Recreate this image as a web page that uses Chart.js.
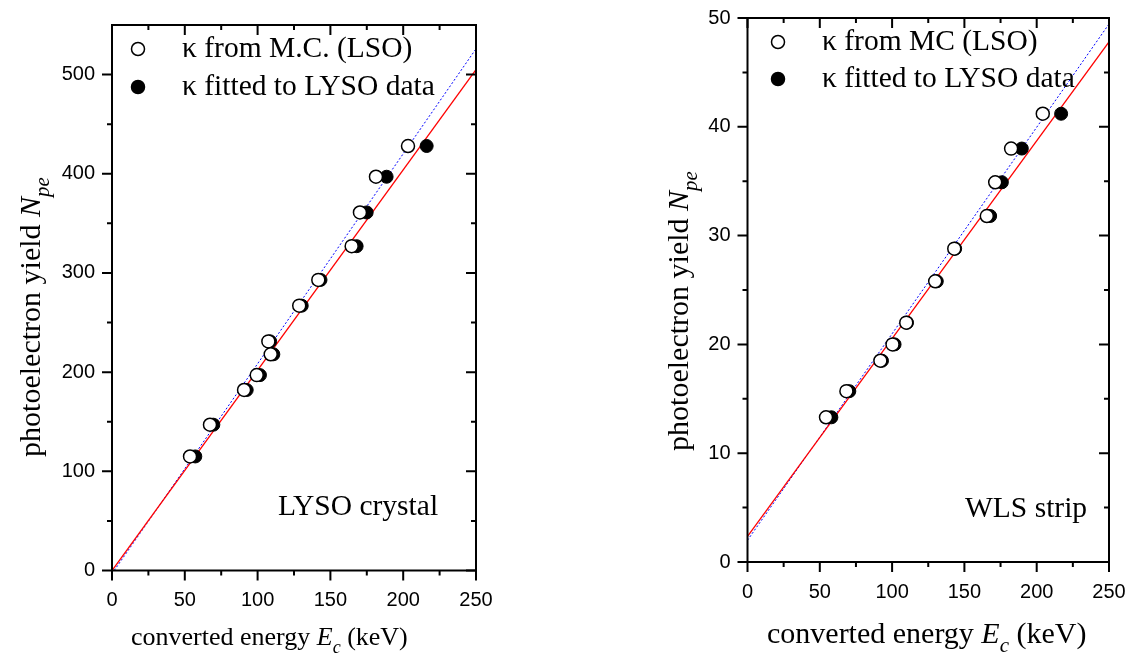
<!DOCTYPE html>
<html>
<head>
<meta charset="utf-8">
<script src="https://cdn.jsdelivr.net/npm/chart.js@4.4.1/dist/chart.umd.min.js"></script>
<style>
  html, body { margin: 0; padding: 0; background: #fff; overflow: hidden; }
  #wrap { position: relative; width: 1137px; height: 664px; }
  .panel { position: absolute; top: 0; height: 664px; }
  #lysoPanel { left: 0; width: 580px; }
  #wlsPanel { left: 580px; width: 557px; }
</style>
</head>
<body>
<div id="wrap">
  <div class="panel" id="lysoPanel"><canvas id="lysoChart"></canvas></div>
  <div class="panel" id="wlsPanel"><canvas id="wlsChart"></canvas></div>
</div>
<script>
// values: converted energy (keV) vs photoelectron yield
const energyTicks = [0, 50, 100, 150, 200, 250];
const lysoYTicks = [0, 100, 200, 300, 400, 500];
const wlsYTicks = [0, 10, 20, 30, 40, 50];

// LYSO crystal
const lysoEnergyMC = [53.6, 67.3, 90.7, 99.4, 107.4, 109.0, 128.6, 141.7, 164.6, 170.3, 181.3, 203.3];
const lysoEnergyFit = [57.2, 69.6, 92.5, 101.6, 108.6, 110.8, 130.3, 143.2, 168.0, 174.9, 188.6, 216.1];
const lysoYield = [115, 147, 182, 197, 231, 218, 267, 293, 327, 361, 397, 428];
const lysoLineX = [0, 250];
const lysoRedY = [0, 505];
const lysoBlueY = [-3.2, 526];

// WLS strip
const wlsEnergyMC = [54.3, 68.4, 91.9, 100.3, 109.8, 129.8, 143.0, 165.5, 171.3, 182.3, 204.2];
const wlsEnergyFit = [58.0, 70.4, 93.0, 101.7, 110.3, 130.9, 143.6, 167.8, 175.9, 189.7, 216.9];
const wlsYield = [13.3, 15.7, 18.5, 20.0, 22.0, 25.8, 28.8, 31.8, 34.9, 38.0, 41.2];
const wlsLineX = [0, 250];
const wlsRedY = [2.35, 47.8];
const wlsBlueY = [2.0, 49.45];

const SERIF = '"Liberation Serif", "Times New Roman", serif';
const SANS = '"Liberation Sans", Arial, sans-serif';

function pairs(xs, ys) {
  return xs.map((x, i) => ({ x: x, y: ys[i] }));
}

// draw a run of text pieces (roman / italic / subscript) starting at x
function richText(ctx, parts, x, y) {
  parts.forEach(p => {
    ctx.font = p.font;
    ctx.fillText(p.t, x, y + (p.dy || 0));
    x += ctx.measureText(p.t).width;
  });
}
function richWidth(ctx, parts) {
  let w = 0;
  parts.forEach(p => { ctx.font = p.font; w += ctx.measureText(p.t).width; });
  return w;
}

const framePlugin = {
  id: 'frame',
  afterDraw(chart, args, o) {
    const { ctx, chartArea: a, scales: { x, y } } = chart;
    ctx.save();
    ctx.strokeStyle = '#000';
    ctx.lineWidth = 2;
    ctx.strokeRect(a.left, a.top, a.right - a.left, a.bottom - a.top);

    // major + minor ticks, outward on left/bottom, inward on top/right
    const xs = [], ys = [];
    const xStep = o.xTicks[1] - o.xTicks[0], yStep = o.yTicks[1] - o.yTicks[0];
    o.xTicks.forEach(v => { xs.push([v, 10]); if (v + xStep / 2 < x.max) xs.push([v + xStep / 2, 5]); });
    o.yTicks.forEach(v => { ys.push([v, 10]); if (v + yStep / 2 < y.max) ys.push([v + yStep / 2, 5]); });
    ctx.beginPath();
    xs.forEach(([v, len]) => {
      const px = x.getPixelForValue(v);
      ctx.moveTo(px, a.bottom); ctx.lineTo(px, a.bottom + len);
      ctx.moveTo(px, a.top); ctx.lineTo(px, a.top + len);
    });
    ys.forEach(([v, len]) => {
      const py = y.getPixelForValue(v);
      ctx.moveTo(a.left - len, py); ctx.lineTo(a.left, py);
      ctx.moveTo(a.right - len, py); ctx.lineTo(a.right, py);
    });
    ctx.stroke();

    ctx.fillStyle = '#000';
    ctx.textBaseline = 'alphabetic';
    ctx.textAlign = 'left';

    // legend inside the frame
    const lf = '29.5px ' + SERIF;
    o.legend.forEach((item, i) => {
      const cy = o.legendY[i];
      ctx.beginPath();
      ctx.arc(o.legendMarkX, cy, 6.5, 0, Math.PI * 2);
      ctx.fillStyle = item.filled ? '#000' : '#fff';
      ctx.fill();
      ctx.lineWidth = 1.5;
      ctx.strokeStyle = '#000';
      ctx.stroke();
      ctx.fillStyle = '#000';
      ctx.font = lf;
      ctx.fillText(item.text, o.legendTextX, cy + 8);
    });

    // sample annotation
    ctx.font = lf;
    ctx.fillText(o.note, o.noteX, o.noteY);

    // x axis title
    const xs2 = o.xTitleSize;
    const xParts = [
      { t: 'converted energy ', font: xs2 + 'px ' + SERIF },
      { t: 'E', font: 'italic ' + xs2 + 'px ' + SERIF },
      { t: 'c', font: 'italic ' + Math.round(xs2 * 0.7) + 'px ' + SERIF, dy: xs2 * 0.3 },
      { t: ' (keV)', font: xs2 + 'px ' + SERIF }
    ];
    richText(ctx, xParts, o.xTitleX, o.xTitleY);

    // y axis title, rotated
    const ys2 = o.yTitleSize;
    const yParts = [
      { t: 'photoelectron yield ', font: ys2 + 'px ' + SERIF },
      { t: 'N', font: 'italic ' + ys2 + 'px ' + SERIF },
      { t: 'pe', font: 'italic ' + Math.round(ys2 * 0.7) + 'px ' + SERIF, dy: ys2 * 0.3 }
    ];
    const w = richWidth(ctx, yParts);
    ctx.translate(o.yTitleX, o.yTitleCenter);
    ctx.rotate(-Math.PI / 2);
    richText(ctx, yParts, -w / 2, 0);
    ctx.restore();
  }
};

function buildChart(id, p) {
  return new Chart(document.getElementById(id), {
    type: 'scatter',
    data: {
      datasets: [
        {
          label: p.legend[0].text,
          data: pairs(p.xOpen, p.yPts),
          backgroundColor: '#fff',
          borderColor: '#000',
          borderWidth: 1.5,
          pointRadius: 6.5,
          pointHoverRadius: 6.5
        },
        {
          label: p.legend[1].text,
          data: pairs(p.xFilled, p.yPts),
          backgroundColor: '#000',
          borderColor: '#000',
          borderWidth: 1,
          pointRadius: 6.5,
          pointHoverRadius: 6.5
        },
        {
          label: 'fit (fitted)',
          data: pairs(p.lineX, p.redY),
          showLine: true,
          borderColor: '#ff0000',
          borderWidth: 1.3,
          pointRadius: 0
        },
        {
          label: 'fit (MC)',
          data: pairs(p.lineX, p.blueY),
          showLine: true,
          borderColor: '#0000ff',
          borderWidth: 1,
          borderDash: [2, 2],
          pointRadius: 0
        }
      ]
    },
    options: {
      responsive: true,
      maintainAspectRatio: false,
      animation: false,
      layout: { padding: { left: 0, top: p.top, right: p.padRight, bottom: 0 } },
      scales: {
        x: {
          type: 'linear',
          min: 0,
          max: 250,
          grid: { display: false, drawTicks: false },
          border: { display: false },
          afterFit: s => {
            s.height = 664 - p.bottom;
            s.paddingLeft = 0;
            s.paddingRight = 0;
          },
          afterBuildTicks: s => { s.ticks = energyTicks.map(v => ({ value: v })); },
          ticks: { padding: 18, autoSkip: false, maxRotation: 0, color: '#000', font: { family: SANS, size: 20 } }
        },
        y: {
          type: 'linear',
          min: 0,
          max: p.yMax,
          grid: { display: false, drawTicks: false },
          border: { display: false },
          afterFit: s => {
            s.width = p.left;
            s.paddingTop = 0;
            s.paddingBottom = 0;
          },
          afterBuildTicks: s => { s.ticks = p.yTicks.map(v => ({ value: v })); },
          ticks: { padding: 17, autoSkip: false, color: '#000', font: { family: SANS, size: 20 } }
        }
      },
      plugins: {
        legend: { display: false },
        tooltip: { enabled: false },
        frame: p.frame
      }
    },
    plugins: [framePlugin]
  });
}

buildChart('lysoChart', {
  xOpen: lysoEnergyMC, xFilled: lysoEnergyFit, yPts: lysoYield,
  lineX: lysoLineX, redY: lysoRedY, blueY: lysoBlueY,
  yMax: 550, yTicks: lysoYTicks,
  left: 112, top: 25, bottom: 570.5, padRight: 104,
  legend: [{ text: 'κ from M.C. (LSO)', filled: false }, { text: 'κ fitted to LYSO data', filled: true }],
  frame: {
    xTicks: energyTicks, yTicks: lysoYTicks,
    legend: [{ text: 'κ from M.C. (LSO)', filled: false }, { text: 'κ fitted to LYSO data', filled: true }],
    legendMarkX: 138, legendY: [49, 87], legendTextX: 182,
    note: 'LYSO crystal', noteX: 278, noteY: 515,
    xTitleSize: 26, xTitleX: 131, xTitleY: 645,
    yTitleSize: 30, yTitleX: 40, yTitleCenter: 317
  }
});

buildChart('wlsChart', {
  xOpen: wlsEnergyMC, xFilled: wlsEnergyFit, yPts: wlsYield,
  lineX: wlsLineX, redY: wlsRedY, blueY: wlsBlueY,
  yMax: 50, yTicks: wlsYTicks,
  left: 167.5, top: 18, bottom: 562, padRight: 28,
  legend: [{ text: 'κ from MC (LSO)', filled: false }, { text: 'κ fitted to LYSO data', filled: true }],
  frame: {
    xTicks: energyTicks, yTicks: wlsYTicks,
    legend: [{ text: 'κ from MC (LSO)', filled: false }, { text: 'κ fitted to LYSO data', filled: true }],
    legendMarkX: 198, legendY: [42, 79], legendTextX: 242,
    note: 'WLS strip', noteX: 385, noteY: 517,
    xTitleSize: 30, xTitleX: 187, xTitleY: 643,
    yTitleSize: 30, yTitleX: 108, yTitleCenter: 311
  }
});
</script>
</body>
</html>
